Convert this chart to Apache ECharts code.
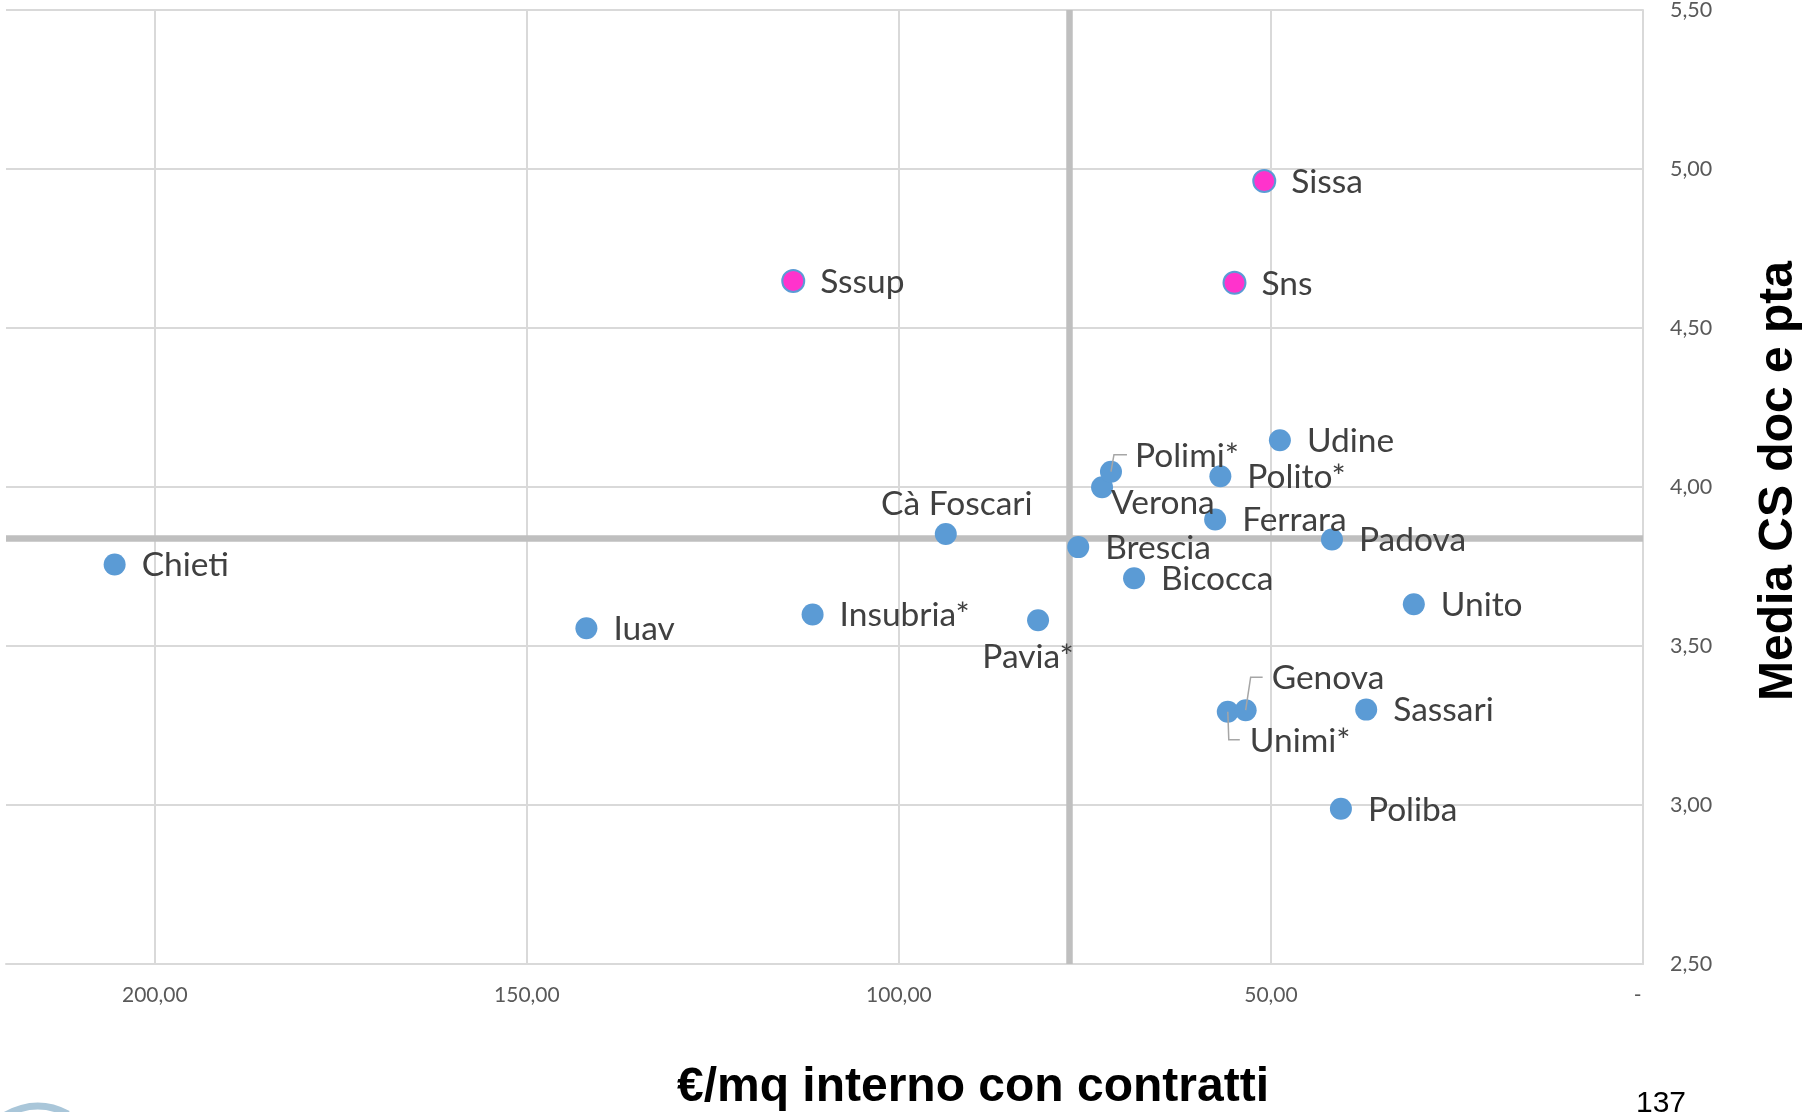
<!DOCTYPE html>
<html>
<head>
<meta charset="utf-8">
<script src="https://cdn.jsdelivr.net/npm/echarts@6/dist/echarts.min.js"></script>
<style>
  html, body { margin: 0; padding: 0; background: #ffffff; }
  #chart { width: 1803px; height: 1112px; }
</style>
</head>
<body>
<div id="chart"></div>
<script>
// ---- DATA ----
const universities = ['Chieti', 'Iuav', 'Insubria*', 'Cà Foscari', 'Pavia*', 'Sssup', 'Brescia', 'Verona', 'Polimi*', 'Bicocca', 'Ferrara', 'Polito*', 'Udine', 'Sns', 'Sissa', 'Padova', 'Unito', 'Unimi*', 'Genova', 'Sassari', 'Poliba'];
const costPerSqm = [205.4, 142.0, 111.6, 93.7, 81.3, 114.2, 75.9, 72.7, 71.5, 68.4, 57.5, 56.8, 48.8, 54.9, 50.9, 41.8, 30.8, 55.8, 53.4, 37.2, 40.6];
const mediaCS = [3.756, 3.556, 3.599, 3.852, 3.581, 4.648, 3.811, 3.999, 4.048, 3.713, 3.898, 4.034, 4.147, 4.642, 4.962, 3.835, 3.631, 3.293, 3.298, 3.300, 2.988];
const highlighted = ['Sssup', 'Sns', 'Sissa'];
const meanCost = 77.1;
const meanCS = 3.84;
const xTickValues = [0, 50, 100, 150, 200];
const xTickLabels = ['-', '50,00', '100,00', '150,00', '200,00'];
const yTickValues = [2.5, 3.0, 3.5, 4.0, 4.5, 5.0, 5.5];
const yTickLabels = ['2,50', '3,00', '3,50', '4,00', '4,50', '5,00', '5,50'];
const xTitle = '€/mq interno con contratti';
const yTitle = 'Media CS doc e pta';
const pageNumber = '137';

// ---- LAYOUT / STYLE (not data) ----
const labelFont = 'Lato, "Open Sans", sans-serif';
const defaultPlacement = { align: 'left', dx: 27, dy: 1 };
const labelPlacement = {
  'Cà Foscari': { align: 'center', dx: 11, dy: -30 },
  'Pavia*': { align: 'center', dx: -10, dy: 37 },
  'Verona': { align: 'left', dx: 9, dy: 16 },
  'Polimi*': { align: 'left', dx: 24, dy: -16 },
  'Genova': { align: 'left', dx: 26, dy: -32 },
  'Unimi*': { align: 'left', dx: 22, dy: 29 }
};
const leaderPaths = {
  'Polimi*': [[0, 0], [3, -17], [16, -17]],
  'Genova': [[0, 0], [5, -33], [17, -33]],
  'Unimi*': [[0, 0], [1, 28], [12, 28]]
};

function tickLabel(values, labels) {
  return function (v) {
    for (let i = 0; i < values.length; i++) {
      if (Math.abs(values[i] - v) < 1e-6) {
        // accounting-style zero dash sits slightly left of the tick
        return labels[i] === '-' ? '-\u2002' : labels[i];
      }
    }
    return '';
  };
}

const scatterData = universities.map(function (name, i) {
  const p = labelPlacement[name] || defaultPlacement;
  const item = {
    name: name,
    value: [costPerSqm[i], mediaCS[i]],
    label: { align: p.align, offset: [p.dx, p.dy] }
  };
  if (highlighted.indexOf(name) >= 0) {
    item.itemStyle = { color: '#FF33CC', borderColor: '#5B9BD5', borderWidth: 2 };
  }
  return item;
});

const leaderData = universities
  .map(function (name, i) { return [costPerSqm[i], mediaCS[i], name]; })
  .filter(function (d) { return leaderPaths[d[2]]; });

const chart = echarts.init(document.getElementById('chart'), null, { renderer: 'canvas' });

const option = {
  backgroundColor: '#ffffff',
  animation: false,
  grid: { left: 6, right: 160, top: 10, bottom: 148, containLabel: false, outerBoundsMode: 'none' },
  xAxis: {
    type: 'value',
    inverse: true,
    min: 0,
    max: 220,
    interval: 50,
    axisLine: { show: true, onZero: false, lineStyle: { color: '#d9d9d9', width: 2 } },
    axisTick: { show: false },
    splitLine: { show: true, showMaxLine: false, lineStyle: { color: '#d9d9d9', width: 2 } },
    axisLabel: {
      show: true,
      showMaxLabel: false,
      margin: 21,
      color: '#595959',
      fontFamily: labelFont,
      fontSize: 21,
      formatter: tickLabel(xTickValues, xTickLabels)
    }
  },
  yAxis: {
    type: 'value',
    position: 'right',
    min: 2.5,
    max: 5.5,
    interval: 0.5,
    axisLine: { show: true, onZero: false, lineStyle: { color: '#d9d9d9', width: 2 } },
    axisTick: { show: false },
    splitLine: { show: true, lineStyle: { color: '#d9d9d9', width: 2 } },
    axisLabel: {
      show: true,
      margin: 27,
      color: '#595959',
      fontFamily: labelFont,
      fontSize: 21.5,
      formatter: tickLabel(yTickValues, yTickLabels)
    }
  },
  series: [
    {
      type: 'scatter',
      name: 'medie',
      data: [],
      z: 1,
      silent: true,
      markLine: {
        z: 1,
        silent: true,
        symbol: ['none', 'none'],
        label: { show: false },
        lineStyle: { color: '#bfbfbf', width: 6.5, type: 'solid' },
        emphasis: { disabled: true },
        data: [{ xAxis: meanCost }, { yAxis: meanCS }]
      }
    },
    {
      type: 'scatter',
      name: 'Atenei',
      z: 3,
      symbol: 'circle',
      symbolSize: 22,
      itemStyle: { color: '#5B9BD5', opacity: 1 },
      label: {
        show: true,
        position: 'inside',
        verticalAlign: 'middle',
        formatter: '{b}',
        color: '#404040',
        fontFamily: labelFont,
        fontSize: 33.5,
        textBorderWidth: 0,
        textBorderColor: 'transparent',
        textShadowBlur: 0
      },
      emphasis: { disabled: true },
      data: scatterData
    },
    {
      type: 'custom',
      name: 'leader',
      z: 4,
      silent: true,
      renderItem: function (params, api) {
        const c = api.coord([api.value(0), api.value(1)]);
        const path = leaderPaths[leaderData[params.dataIndex][2]];
        return {
          type: 'polyline',
          shape: { points: path.map(function (d) { return [c[0] + d[0], c[1] + d[1]]; }) },
          style: { stroke: '#a6a6a6', lineWidth: 1.5, fill: null }
        };
      },
      data: leaderData
    }
  ],
  graphic: [
    {
      type: 'text',
      x: 973,
      y: 1088,
      style: {
        text: xTitle,
        fill: '#000000',
        font: 'bold 48px "Liberation Sans", Arial, sans-serif',
        align: 'center',
        verticalAlign: 'middle'
      }
    },
    {
      type: 'text',
      x: 1779,
      y: 481,
      rotation: Math.PI / 2,
      style: {
        text: yTitle,
        fill: '#000000',
        font: 'bold 48px "Liberation Sans", Arial, sans-serif',
        align: 'center',
        verticalAlign: 'middle'
      }
    },
    {
      type: 'text',
      x: 1661,
      y: 1104,
      style: {
        text: pageNumber,
        fill: '#000000',
        font: '30px "Liberation Sans", Arial, sans-serif',
        align: 'center',
        verticalAlign: 'middle'
      }
    },
    {
      type: 'bezierCurve',
      shape: { x1: 4, y1: 1116, cpx1: 36, cpy1: 1097, x2: 68, y2: 1114 },
      style: { stroke: '#a9c6d9', lineWidth: 7, fill: null }
    }
  ]
};

chart.setOption(option);
</script>
</body>
</html>
